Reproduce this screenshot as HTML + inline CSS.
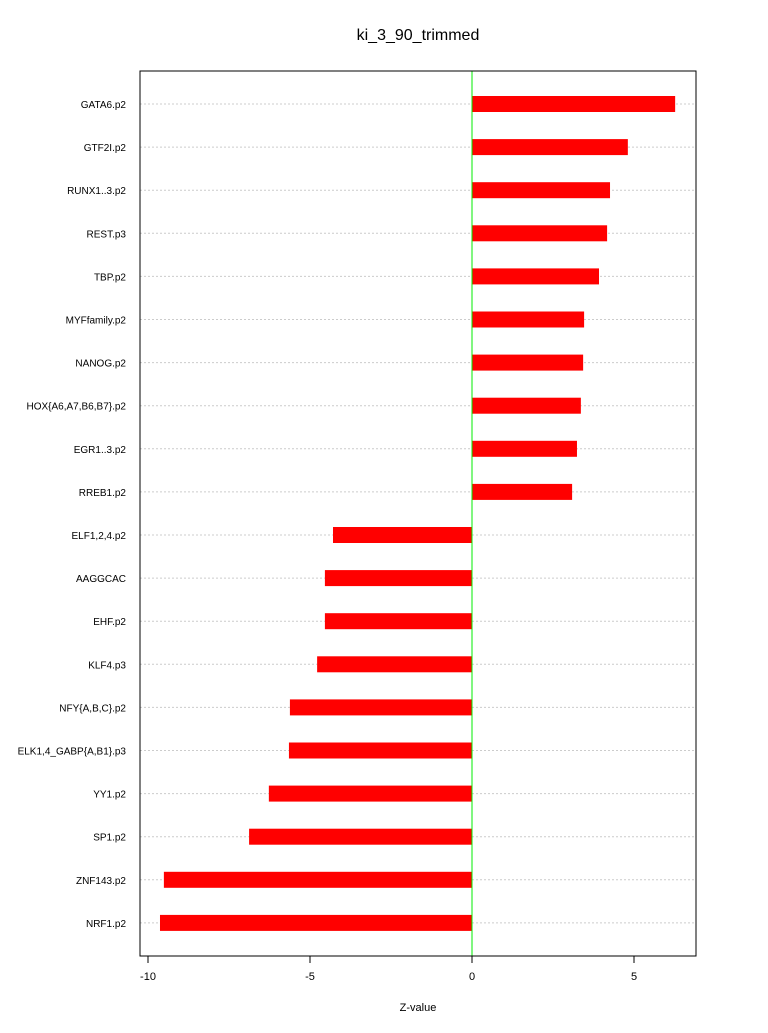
<!DOCTYPE html>
<html><head><meta charset="utf-8"><style>
body{margin:0;background:#fff;font-family:"Liberation Sans",sans-serif;}
</style></head><body>
<svg id="chart" width="768" height="1028" xmlns="http://www.w3.org/2000/svg">
<text x="418" y="40" font-size="16" text-anchor="middle">ki_3_90_trimmed</text>
<text x="418" y="1011" font-size="11" text-anchor="middle">Z-value</text>
<g id="grid"></g><g id="bars"></g><g id="labels"></g><g id="xaxis"></g>
<line x1="472" y1="71" x2="472" y2="956" stroke="#00ee00" stroke-width="1"/>
<rect x="140" y="71" width="556" height="885" fill="none" stroke="#000"/>
</svg>
<script>
const categories=["GATA6.p2","GTF2I.p2","RUNX1..3.p2","REST.p3","TBP.p2","MYFfamily.p2","NANOG.p2","HOX{A6,A7,B6,B7}.p2","EGR1..3.p2","RREB1.p2","ELF1,2,4.p2","AAGGCAC","EHF.p2","KLF4.p3","NFY{A,B,C}.p2","ELK1,4_GABP{A,B1}.p3","YY1.p2","SP1.p2","ZNF143.p2","NRF1.p2"];
const values=[6.27,4.81,4.26,4.17,3.92,3.46,3.43,3.36,3.24,3.09,-4.29,-4.54,-4.54,-4.78,-5.62,-5.65,-6.27,-6.88,-9.51,-9.63];
const ticks=[-10,-5,0,5];
const NS="http://www.w3.org/2000/svg";
const x=v=>472+v*32.4;
const y=i=>104+i*43.1;
function mk(t,a,p){const e=document.createElementNS(NS,t);for(const k in a)e.setAttribute(k,a[k]);document.getElementById(p).appendChild(e);return e;}
categories.forEach((c,i)=>{
  const g=mk('line',{x1:140,x2:696,y1:y(i),y2:y(i),stroke:'#ccc','stroke-dasharray':'2,2'},'grid');
  
  
  const v=values[i];
  const b=mk('rect',{x:Math.min(x(0),x(v)),y:y(i)-8,width:Math.abs(x(v)-x(0)),height:16,fill:'#ff0000'},'bars');
  
  
  const t=mk('text',{x:126,y:y(i)+4,'font-size':10,'text-anchor':'end'},'labels');
  t.textContent=c;
  
  
});
ticks.forEach(tk=>{
  const l=mk('line',{x1:x(tk),x2:x(tk),y1:956,y2:963,stroke:'#000'},'xaxis');
  
  
  const t=mk('text',{x:x(tk),y:980,'font-size':11,'text-anchor':'middle'},'xaxis');
  t.textContent=tk;
  
  
});
</script>
</body></html>
